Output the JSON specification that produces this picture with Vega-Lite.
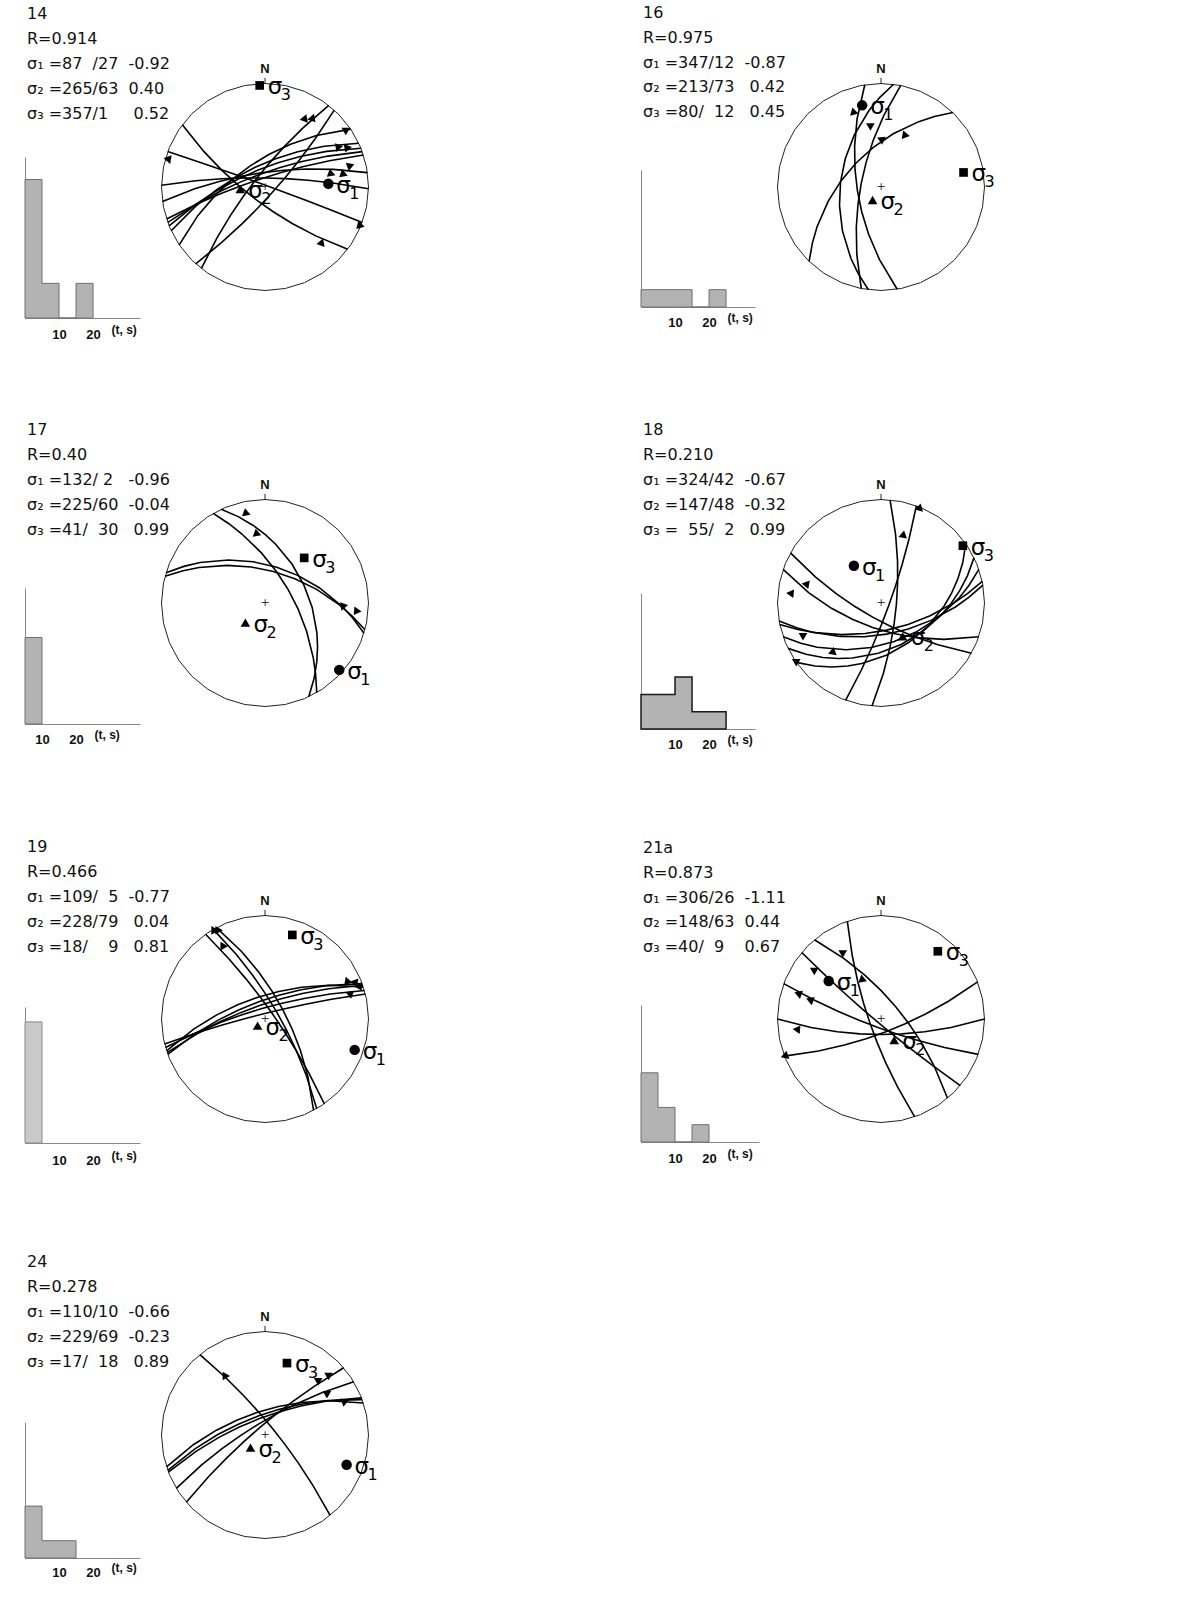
{
"$schema": "https://vega.github.io/schema/vega-lite/v6.json",
"padding": {"left": 23, "top": 0, "right": 0, "bottom": 0},
"background": "white",
"config": {"view": {"stroke": null}},
"datasets": {
"txt": [
{"p":"14","i":0,"t":"14"},{"p":"14","i":1,"t":"R=0.914"},{"p":"14","i":2,"t":"σ₁ =87 \u00a0/27 \u00a0-0.92"},{"p":"14","i":3,"t":"σ₂ =265/63 \u00a00.40"},{"p":"14","i":4,"t":"σ₃ =357/1 \u00a0\u00a0\u00a0\u00a00.52"},
{"p":"16","i":0,"t":"16"},{"p":"16","i":1,"t":"R=0.975"},{"p":"16","i":2,"t":"σ₁ =347/12 \u00a0-0.87"},{"p":"16","i":3,"t":"σ₂ =213/73 \u00a0\u00a00.42"},{"p":"16","i":4,"t":"σ₃ =80/ \u00a012 \u00a0\u00a00.45"},
{"p":"17","i":0,"t":"17"},{"p":"17","i":1,"t":"R=0.40"},{"p":"17","i":2,"t":"σ₁ =132/ 2 \u00a0\u00a0-0.96"},{"p":"17","i":3,"t":"σ₂ =225/60 \u00a0-0.04"},{"p":"17","i":4,"t":"σ₃ =41/ \u00a030 \u00a0\u00a00.99"},
{"p":"18","i":0,"t":"18"},{"p":"18","i":1,"t":"R=0.210"},{"p":"18","i":2,"t":"σ₁ =324/42 \u00a0-0.67"},{"p":"18","i":3,"t":"σ₂ =147/48 \u00a0-0.32"},{"p":"18","i":4,"t":"σ₃ = \u00a055/ \u00a02 \u00a0\u00a00.99"},
{"p":"19","i":0,"t":"19"},{"p":"19","i":1,"t":"R=0.466"},{"p":"19","i":2,"t":"σ₁ =109/ \u00a05 \u00a0-0.77"},{"p":"19","i":3,"t":"σ₂ =228/79 \u00a0\u00a00.04"},{"p":"19","i":4,"t":"σ₃ =18/ \u00a0\u00a0\u00a09 \u00a0\u00a00.81"},
{"p":"21a","i":0,"t":"21a"},{"p":"21a","i":1,"t":"R=0.873"},{"p":"21a","i":2,"t":"σ₁ =306/26 \u00a0-1.11"},{"p":"21a","i":3,"t":"σ₂ =148/63 \u00a00.44"},{"p":"21a","i":4,"t":"σ₃ =40/ \u00a09 \u00a0\u00a0\u00a00.67"},
{"p":"24","i":0,"t":"24"},{"p":"24","i":1,"t":"R=0.278"},{"p":"24","i":2,"t":"σ₁ =110/10 \u00a0-0.66"},{"p":"24","i":3,"t":"σ₂ =229/69 \u00a0-0.23"},{"p":"24","i":4,"t":"σ₃ =17/ \u00a018 \u00a0\u00a00.89"}
],
"hist": [
{"p":"14","t":0,"n":8},{"p":"14","t":5,"n":2},{"p":"14","t":10,"n":0},{"p":"14","t":15,"n":2},{"p":"14","t":20,"n":0},
{"p":"16","t":0,"n":1},{"p":"16","t":15,"n":0},{"p":"16","t":20,"n":1},{"p":"16","t":25,"n":0},
{"p":"17","t":5,"n":5},{"p":"17","t":10,"n":0},
{"p":"18","t":0,"n":2},{"p":"18","t":10,"n":3},{"p":"18","t":15,"n":1},{"p":"18","t":25,"n":0},
{"p":"19","t":0,"n":7},{"p":"19","t":5,"n":0},
{"p":"21a","t":0,"n":4},{"p":"21a","t":5,"n":2},{"p":"21a","t":10,"n":0},{"p":"21a","t":15,"n":1},{"p":"21a","t":20,"n":0},
{"p":"24","t":0,"n":3},{"p":"24","t":5,"n":1},{"p":"24","t":15,"n":0}
],
"prim": [{"type":"Feature","geometry":{"type":"LineString","coordinates":[[0,0],[90,0],[180,0],[270,0],[360,0]]}},{"type":"Feature","geometry":{"type":"LineString","coordinates":[[0,0],[0,-3]]}}],
"ref": [{"k":"N","lon":0,"lat":0},{"k":"+","lon":0,"lat":90}],
"planes": [
{"p":"14","type":"Feature","geometry":{"type":"LineString","coordinates":[[127,0],[217,73],[307,0]]}},
{"p":"14","type":"Feature","geometry":{"type":"LineString","coordinates":[[290,0],[20,88],[110,0]]}},
{"p":"14","type":"Feature","geometry":{"type":"LineString","coordinates":[[218,0],[308,77],[38,0]]}},
{"p":"14","type":"Feature","geometry":{"type":"LineString","coordinates":[[42,0],[132,80],[222,0]]}},
{"p":"14","type":"Feature","geometry":{"type":"LineString","coordinates":[[236,0],[326,62],[56,0]]}},
{"p":"14","type":"Feature","geometry":{"type":"LineString","coordinates":[[250,0],[340,75],[70,0]]}},
{"p":"14","type":"Feature","geometry":{"type":"LineString","coordinates":[[248,0],[338,70],[68,0]]}},
{"p":"14","type":"Feature","geometry":{"type":"LineString","coordinates":[[252,0],[342,80],[72,0]]}},
{"p":"14","type":"Feature","geometry":{"type":"LineString","coordinates":[[245,0],[335,66],[65,0]]}},
{"p":"14","type":"Feature","geometry":{"type":"LineString","coordinates":[[262,0],[352,74],[82,0]]}},
{"p":"14","type":"Feature","geometry":{"type":"LineString","coordinates":[[271,0],[1,80],[91,0]]}},
{"p":"16","type":"Feature","geometry":{"type":"LineString","coordinates":[[224,0],[314,53],[44,0]]}},
{"p":"16","type":"Feature","geometry":{"type":"LineString","coordinates":[[171,0],[261,64],[351,0]]}},
{"p":"16","type":"Feature","geometry":{"type":"LineString","coordinates":[[187,0],[277,47],[7,0]]}},
{"p":"16","type":"Feature","geometry":{"type":"LineString","coordinates":[[191,0],[281,68],[11,0]]}},
{"p":"17","type":"Feature","geometry":{"type":"LineString","coordinates":[[287,0],[17,50],[107,0]]}},
{"p":"17","type":"Feature","geometry":{"type":"LineString","coordinates":[[285,0],[15,55],[105,0]]}},
{"p":"17","type":"Feature","geometry":{"type":"LineString","coordinates":[[330,0],[60,61],[150,0]]}},
{"p":"17","type":"Feature","geometry":{"type":"LineString","coordinates":[[335,0],[65,45],[155,0]]}},
{"p":"18","type":"Feature","geometry":{"type":"LineString","coordinates":[[5,0],[95,73],[185,0]]}},
{"p":"18","type":"Feature","geometry":{"type":"LineString","coordinates":[[20,0],[110,81],[200,0]]}},
{"p":"18","type":"Feature","geometry":{"type":"LineString","coordinates":[[119,0],[209,72],[299,0]]}},
{"p":"18","type":"Feature","geometry":{"type":"LineString","coordinates":[[109,0],[199,62],[289,0]]}},
{"p":"18","type":"Feature","geometry":{"type":"LineString","coordinates":[[78,0],[168,60],[258,0]]}},
{"p":"18","type":"Feature","geometry":{"type":"LineString","coordinates":[[71,0],[161,47],[251,0]]}},
{"p":"18","type":"Feature","geometry":{"type":"LineString","coordinates":[[64,0],[154,42],[244,0]]}},
{"p":"18","type":"Feature","geometry":{"type":"LineString","coordinates":[[55,0],[145,40],[235,0]]}},
{"p":"18","type":"Feature","geometry":{"type":"LineString","coordinates":[[80,0],[170,56],[260,0]]}},
{"p":"19","type":"Feature","geometry":{"type":"LineString","coordinates":[[325,0],[55,80],[145,0]]}},
{"p":"19","type":"Feature","geometry":{"type":"LineString","coordinates":[[330,0],[60,75],[150,0]]}},
{"p":"19","type":"Feature","geometry":{"type":"LineString","coordinates":[[332,0],[62,68],[152,0]]}},
{"p":"19","type":"Feature","geometry":{"type":"LineString","coordinates":[[252,0],[342,65],[72,0]]}},
{"p":"19","type":"Feature","geometry":{"type":"LineString","coordinates":[[250,0],[340,70],[70,0]]}},
{"p":"19","type":"Feature","geometry":{"type":"LineString","coordinates":[[254,0],[344,78],[74,0]]}},
{"p":"19","type":"Feature","geometry":{"type":"LineString","coordinates":[[256,0],[346,84],[76,0]]}},
{"p":"19","type":"Feature","geometry":{"type":"LineString","coordinates":[[251,0],[341,74],[71,0]]}},
{"p":"21a","type":"Feature","geometry":{"type":"LineString","coordinates":[[161,0],[251,77],[341,0]]}},
{"p":"21a","type":"Feature","geometry":{"type":"LineString","coordinates":[[320,0],[50,69],[140,0]]}},
{"p":"21a","type":"Feature","geometry":{"type":"LineString","coordinates":[[130,0],[220,85],[310,0]]}},
{"p":"21a","type":"Feature","geometry":{"type":"LineString","coordinates":[[110,0],[200,80],[290,0]]}},
{"p":"21a","type":"Feature","geometry":{"type":"LineString","coordinates":[[90,0],[180,73],[270,0]]}},
{"p":"21a","type":"Feature","geometry":{"type":"LineString","coordinates":[[69,0],[159,75],[249,0]]}},
{"p":"24","type":"Feature","geometry":{"type":"LineString","coordinates":[[321,0],[51,79],[141,0]]}},
{"p":"24","type":"Feature","geometry":{"type":"LineString","coordinates":[[252,0],[342,64],[72,0]]}},
{"p":"24","type":"Feature","geometry":{"type":"LineString","coordinates":[[250,0],[340,68],[70,0]]}},
{"p":"24","type":"Feature","geometry":{"type":"LineString","coordinates":[[249,0],[339,71],[69,0]]}},
{"p":"24","type":"Feature","geometry":{"type":"LineString","coordinates":[[239,0],[329,76],[59,0]]}},
{"p":"24","type":"Feature","geometry":{"type":"LineString","coordinates":[[229.5,0],[319.5,80],[49.5,0]]}}
],
"arrows": [
{"p":"14","lon":286,"lat":1,"dir":280},{"p":"14","lon":29.5,"lat":16,"dir":260},{"p":"14","lon":34,"lat":13,"dir":260},{"p":"14","lon":55,"lat":2,"dir":60},{"p":"14","lon":62,"lat":13,"dir":200},{"p":"14","lon":65,"lat":8,"dir":200},{"p":"14","lon":76,"lat":9,"dir":70},{"p":"14","lon":79,"lat":25,"dir":230},{"p":"14","lon":81,"lat":16,"dir":230},{"p":"14","lon":112,"lat":0,"dir":105},{"p":"14","lon":135,"lat":14,"dir":140},
{"p":"16","lon":340,"lat":14,"dir":345},{"p":"16","lon":350,"lat":29,"dir":180},{"p":"16","lon":1,"lat":42,"dir":175},{"p":"16","lon":26,"lat":32,"dir":100},
{"p":"17","lon":348,"lat":6,"dir":350},{"p":"17","lon":353,"lat":21,"dir":350},{"p":"17","lon":92,"lat":15,"dir":80},{"p":"17","lon":95,"lat":6,"dir":95},
{"p":"18","lon":22,"lat":0,"dir":15},{"p":"18","lon":18,"lat":20,"dir":10},{"p":"18","lon":284,"lat":16,"dir":280},{"p":"18","lon":276,"lat":7,"dir":275},{"p":"18","lon":248,"lat":11,"dir":300},{"p":"18","lon":225,"lat":22,"dir":250},{"p":"18","lon":236,"lat":0,"dir":300},
{"p":"19","lon":330,"lat":0,"dir":330},{"p":"19","lon":332,"lat":1,"dir":330},{"p":"19","lon":330,"lat":11,"dir":330},{"p":"19","lon":66,"lat":7,"dir":100},{"p":"19","lon":68.6,"lat":3.5,"dir":160},{"p":"19","lon":71.7,"lat":2,"dir":150},{"p":"19","lon":74.4,"lat":8.8,"dir":170},
{"p":"21a","lon":331,"lat":17,"dir":60},{"p":"21a","lon":306,"lat":12,"dir":300},{"p":"21a","lon":335,"lat":43,"dir":350},{"p":"21a","lon":287,"lat":10,"dir":290},{"p":"21a","lon":285,"lat":19,"dir":290},{"p":"21a","lon":263,"lat":11,"dir":275},{"p":"21a","lon":249,"lat":0,"dir":250},
{"p":"24","lon":326,"lat":20,"dir":330},{"p":"24","lon":45,"lat":18,"dir":180},{"p":"24","lon":47,"lat":9,"dir":60},{"p":"24","lon":57,"lat":19,"dir":180},{"p":"24","lon":68,"lat":11,"dir":190}
],
"sig": [
{"p":"14","s":"1","lon":87,"lat":27},{"p":"14","s":"2","lon":265,"lat":63},{"p":"14","s":"3","lon":357,"lat":1},
{"p":"16","s":"1","lon":347,"lat":12},{"p":"16","s":"2","lon":213,"lat":73},{"p":"16","s":"3","lon":80,"lat":12},
{"p":"17","s":"1","lon":132,"lat":2},{"p":"17","s":"2","lon":225,"lat":60},{"p":"17","s":"3","lon":41,"lat":30},
{"p":"18","s":"1","lon":324,"lat":42},{"p":"18","s":"2","lon":147,"lat":48},{"p":"18","s":"3","lon":55,"lat":2},
{"p":"19","s":"1","lon":109,"lat":5},{"p":"19","s":"2","lon":228,"lat":79},{"p":"19","s":"3","lon":18,"lat":9},
{"p":"21a","s":"1","lon":306,"lat":26},{"p":"21a","s":"2","lon":148,"lat":63},{"p":"21a","s":"3","lon":40,"lat":9},
{"p":"24","s":"1","lon":110,"lat":10},{"p":"24","s":"2","lon":229,"lat":69},{"p":"24","s":"3","lon":17,"lat":18}
]
},
"columns": 2,
"spacing": 0,
"bounds": "flush",
"concat": [
{"width": 616, "height": 416, "resolve": {"scale": {"x": "independent", "y": "independent"}},
 "layer": [
  {"data": {"name": "txt"}, "transform": [{"filter": {"field": "p", "equal": "14"}}],
   "mark": {"type": "text", "align": "left", "baseline": "alphabetic", "font": "DejaVu Sans", "fontSize": 16, "dx": 2, "color": "#111"},
   "encoding": {"x": {"value": 0}, "y": {"field": "i", "type": "ordinal", "axis": null, "scale": {"type": "point", "range": [19, 119], "padding": 0}}, "text": {"field": "t"}}},
  {"data": {"name": "hist"}, "transform": [{"filter": {"field": "p", "equal": "14"}}],
   "mark": {"type": "area", "interpolate": "step-after", "fill": "#b3b3b3", "stroke": "#6e6e6e", "strokeWidth": 1},
   "encoding": {
    "x": {"field": "t", "type": "quantitative", "scale": {"domain": [0, 33.8], "range": [0, 115], "nice": false, "zero": false},
     "axis": {"offset": -98, "values": [10, 20, 29], "labelExpr": "datum.value > 25 ? '(t, s)' : datum.label", "ticks": false, "tickSize": 0, "grid": false, "domainColor": "#8a8a8a", "labelFont": "Liberation Sans", "labelFontWeight": "bold", "labelColor": "#111", "labelFontSize": {"condition": {"test": "datum.value > 25", "value": 12}, "value": 13}, "labelPadding": {"condition": {"test": "datum.value > 25", "value": 6}, "value": 10}, "labelOverlap": false, "labelFlush": false, "title": null}},
    "y": {"field": "n", "type": "quantitative", "scale": {"domain": [0, 9.3], "range": [318, 157], "nice": false}, "axis": {"ticks": false, "labels": false, "grid": false, "domainColor": "#8a8a8a", "title": null}}}},
  {"projection": {"type": "stereographic", "rotate": [180, -90, 0], "reflectX": true, "scale": 103.5, "translate": [240, 187]},
   "layer": [
    {"data": {"name": "prim"}, "mark": {"type": "geoshape", "filled": false, "stroke": "#222", "strokeWidth": 1}},
    {"data": {"name": "planes"}, "transform": [{"filter": {"field": "p", "equal": "14"}}], "mark": {"type": "geoshape", "filled": false, "stroke": "#000", "strokeWidth": 1.6}},
    {"data": {"name": "arrows"}, "transform": [{"filter": {"field": "p", "equal": "14"}}], "mark": {"type": "point", "shape": "triangle-up", "filled": true, "color": "#000", "opacity": 1, "size": 75}, "encoding": {"longitude": {"field": "lon", "type": "quantitative"}, "latitude": {"field": "lat", "type": "quantitative"}, "angle": {"field": "dir", "type": "quantitative", "scale": null}}},
    {"data": {"name": "sig"}, "transform": [{"filter": {"field": "p", "equal": "14"}}], "mark": {"type": "point", "filled": true, "color": "#000", "opacity": 1}, "encoding": {"longitude": {"field": "lon", "type": "quantitative"}, "latitude": {"field": "lat", "type": "quantitative"}, "shape": {"field": "s", "type": "nominal", "scale": {"domain": ["1","2","3"], "range": ["circle","triangle-up","square"]}, "legend": null}, "size": {"field": "s", "type": "ordinal", "scale": {"domain": ["1","2","3"], "range": [110, 75, 90]}, "legend": null}}},
    {"data": {"name": "sig"}, "transform": [{"filter": {"field": "p", "equal": "14"}}], "mark": {"type": "text", "text": "σ", "align": "left", "baseline": "middle", "dx": 8, "dy": 2, "font": "DejaVu Sans", "fontSize": 23, "color": "#000"}, "encoding": {"longitude": {"field": "lon", "type": "quantitative"}, "latitude": {"field": "lat", "type": "quantitative"}}},
    {"data": {"name": "sig"}, "transform": [{"filter": {"field": "p", "equal": "14"}}], "mark": {"type": "text", "align": "left", "baseline": "middle", "dx": 21, "dy": 10, "font": "DejaVu Sans", "fontSize": 16, "color": "#000"}, "encoding": {"longitude": {"field": "lon", "type": "quantitative"}, "latitude": {"field": "lat", "type": "quantitative"}, "text": {"field": "s"}}},
    {"data": {"name": "ref"}, "transform": [{"filter": {"field": "k", "equal": "N"}}], "mark": {"type": "text", "text": "N", "font": "Liberation Sans", "fontWeight": "bold", "fontSize": 13, "baseline": "middle", "dy": -15, "color": "#111"}, "encoding": {"longitude": {"field": "lon", "type": "quantitative"}, "latitude": {"field": "lat", "type": "quantitative"}}},
    {"data": {"name": "ref"}, "transform": [{"filter": {"field": "k", "equal": "+"}}], "mark": {"type": "text", "text": "+", "font": "DejaVu Sans", "fontSize": 11, "baseline": "middle", "color": "#333"}, "encoding": {"longitude": {"field": "lon", "type": "quantitative"}, "latitude": {"field": "lat", "type": "quantitative"}}}
   ]}
 ]},
{"width": 616, "height": 416, "resolve": {"scale": {"x": "independent", "y": "independent"}},
 "layer": [
  {"data": {"name": "txt"}, "transform": [{"filter": {"field": "p", "equal": "16"}}],
   "mark": {"type": "text", "align": "left", "baseline": "alphabetic", "font": "DejaVu Sans", "fontSize": 16, "dx": 2, "color": "#111"},
   "encoding": {"x": {"value": 0}, "y": {"field": "i", "type": "ordinal", "axis": null, "scale": {"type": "point", "range": [18, 117], "padding": 0}}, "text": {"field": "t"}}},
  {"data": {"name": "hist"}, "transform": [{"filter": {"field": "p", "equal": "16"}}],
   "mark": {"type": "area", "interpolate": "step-after", "fill": "#b3b3b3", "stroke": "#6e6e6e", "strokeWidth": 1},
   "encoding": {
    "x": {"field": "t", "type": "quantitative", "scale": {"domain": [0, 33.5], "range": [0, 114], "nice": false, "zero": false},
     "axis": {"offset": -109, "values": [10, 20, 29], "labelExpr": "datum.value > 25 ? '(t, s)' : datum.label", "ticks": false, "tickSize": 0, "grid": false, "domainColor": "#8a8a8a", "labelFont": "Liberation Sans", "labelFontWeight": "bold", "labelColor": "#111", "labelFontSize": {"condition": {"test": "datum.value > 25", "value": 12}, "value": 13}, "labelPadding": {"condition": {"test": "datum.value > 25", "value": 5}, "value": 9}, "labelOverlap": false, "labelFlush": false, "title": null}},
    "y": {"field": "n", "type": "quantitative", "scale": {"domain": [0, 7.92], "range": [307, 170], "nice": false}, "axis": {"ticks": false, "labels": false, "grid": false, "domainColor": "#8a8a8a", "title": null}}}},
  {"projection": {"type": "stereographic", "rotate": [180, -90, 0], "reflectX": true, "scale": 103.5, "translate": [244, 185]},
   "layer": [
    {"data": {"name": "prim"}, "mark": {"type": "geoshape", "filled": false, "stroke": "#222", "strokeWidth": 1}},
    {"data": {"name": "planes"}, "transform": [{"filter": {"field": "p", "equal": "16"}}], "mark": {"type": "geoshape", "filled": false, "stroke": "#000", "strokeWidth": 1.6}},
    {"data": {"name": "arrows"}, "transform": [{"filter": {"field": "p", "equal": "16"}}], "mark": {"type": "point", "shape": "triangle-up", "filled": true, "color": "#000", "opacity": 1, "size": 75}, "encoding": {"longitude": {"field": "lon", "type": "quantitative"}, "latitude": {"field": "lat", "type": "quantitative"}, "angle": {"field": "dir", "type": "quantitative", "scale": null}}},
    {"data": {"name": "sig"}, "transform": [{"filter": {"field": "p", "equal": "16"}}], "mark": {"type": "point", "filled": true, "color": "#000", "opacity": 1}, "encoding": {"longitude": {"field": "lon", "type": "quantitative"}, "latitude": {"field": "lat", "type": "quantitative"}, "shape": {"field": "s", "type": "nominal", "scale": {"domain": ["1","2","3"], "range": ["circle","triangle-up","square"]}, "legend": null}, "size": {"field": "s", "type": "ordinal", "scale": {"domain": ["1","2","3"], "range": [110, 75, 90]}, "legend": null}}},
    {"data": {"name": "sig"}, "transform": [{"filter": {"field": "p", "equal": "16"}}], "mark": {"type": "text", "text": "σ", "align": "left", "baseline": "middle", "dx": 8, "dy": 2, "font": "DejaVu Sans", "fontSize": 23, "color": "#000"}, "encoding": {"longitude": {"field": "lon", "type": "quantitative"}, "latitude": {"field": "lat", "type": "quantitative"}}},
    {"data": {"name": "sig"}, "transform": [{"filter": {"field": "p", "equal": "16"}}], "mark": {"type": "text", "align": "left", "baseline": "middle", "dx": 21, "dy": 10, "font": "DejaVu Sans", "fontSize": 16, "color": "#000"}, "encoding": {"longitude": {"field": "lon", "type": "quantitative"}, "latitude": {"field": "lat", "type": "quantitative"}, "text": {"field": "s"}}},
    {"data": {"name": "ref"}, "transform": [{"filter": {"field": "k", "equal": "N"}}], "mark": {"type": "text", "text": "N", "font": "Liberation Sans", "fontWeight": "bold", "fontSize": 13, "baseline": "middle", "dy": -15, "color": "#111"}, "encoding": {"longitude": {"field": "lon", "type": "quantitative"}, "latitude": {"field": "lat", "type": "quantitative"}}},
    {"data": {"name": "ref"}, "transform": [{"filter": {"field": "k", "equal": "+"}}], "mark": {"type": "text", "text": "+", "font": "DejaVu Sans", "fontSize": 11, "baseline": "middle", "color": "#333"}, "encoding": {"longitude": {"field": "lon", "type": "quantitative"}, "latitude": {"field": "lat", "type": "quantitative"}}}
   ]}
 ]},
{"width": 616, "height": 416, "resolve": {"scale": {"x": "independent", "y": "independent"}},
 "layer": [
  {"data": {"name": "txt"}, "transform": [{"filter": {"field": "p", "equal": "17"}}],
   "mark": {"type": "text", "align": "left", "baseline": "alphabetic", "font": "DejaVu Sans", "fontSize": 16, "dx": 2, "color": "#111"},
   "encoding": {"x": {"value": 0}, "y": {"field": "i", "type": "ordinal", "axis": null, "scale": {"type": "point", "range": [19, 119], "padding": 0}}, "text": {"field": "t"}}},
  {"data": {"name": "hist"}, "transform": [{"filter": {"field": "p", "equal": "17"}}],
   "mark": {"type": "area", "interpolate": "step-after", "fill": "#b3b3b3", "stroke": "#6e6e6e", "strokeWidth": 1},
   "encoding": {
    "x": {"field": "t", "type": "quantitative", "scale": {"domain": [5, 38.8], "range": [0, 115], "nice": false, "zero": false},
     "axis": {"offset": -108, "values": [10, 20, 29], "labelExpr": "datum.value > 25 ? '(t, s)' : datum.label", "ticks": false, "tickSize": 0, "grid": false, "domainColor": "#8a8a8a", "labelFont": "Liberation Sans", "labelFontWeight": "bold", "labelColor": "#111", "labelFontSize": {"condition": {"test": "datum.value > 25", "value": 12}, "value": 13}, "labelPadding": {"condition": {"test": "datum.value > 25", "value": 5}, "value": 9}, "labelOverlap": false, "labelFlush": false, "title": null}},
    "y": {"field": "n", "type": "quantitative", "scale": {"domain": [0, 7.86], "range": [308, 172], "nice": false}, "axis": {"ticks": false, "labels": false, "grid": false, "domainColor": "#8a8a8a", "title": null}}}},
  {"projection": {"type": "stereographic", "rotate": [180, -90, 0], "reflectX": true, "scale": 103.5, "translate": [241, 181]},
   "layer": [
    {"data": {"name": "prim"}, "mark": {"type": "geoshape", "filled": false, "stroke": "#222", "strokeWidth": 1}},
    {"data": {"name": "planes"}, "transform": [{"filter": {"field": "p", "equal": "17"}}], "mark": {"type": "geoshape", "filled": false, "stroke": "#000", "strokeWidth": 1.6}},
    {"data": {"name": "arrows"}, "transform": [{"filter": {"field": "p", "equal": "17"}}], "mark": {"type": "point", "shape": "triangle-up", "filled": true, "color": "#000", "opacity": 1, "size": 75}, "encoding": {"longitude": {"field": "lon", "type": "quantitative"}, "latitude": {"field": "lat", "type": "quantitative"}, "angle": {"field": "dir", "type": "quantitative", "scale": null}}},
    {"data": {"name": "sig"}, "transform": [{"filter": {"field": "p", "equal": "17"}}], "mark": {"type": "point", "filled": true, "color": "#000", "opacity": 1}, "encoding": {"longitude": {"field": "lon", "type": "quantitative"}, "latitude": {"field": "lat", "type": "quantitative"}, "shape": {"field": "s", "type": "nominal", "scale": {"domain": ["1","2","3"], "range": ["circle","triangle-up","square"]}, "legend": null}, "size": {"field": "s", "type": "ordinal", "scale": {"domain": ["1","2","3"], "range": [110, 75, 90]}, "legend": null}}},
    {"data": {"name": "sig"}, "transform": [{"filter": {"field": "p", "equal": "17"}}], "mark": {"type": "text", "text": "σ", "align": "left", "baseline": "middle", "dx": 8, "dy": 2, "font": "DejaVu Sans", "fontSize": 23, "color": "#000"}, "encoding": {"longitude": {"field": "lon", "type": "quantitative"}, "latitude": {"field": "lat", "type": "quantitative"}}},
    {"data": {"name": "sig"}, "transform": [{"filter": {"field": "p", "equal": "17"}}], "mark": {"type": "text", "align": "left", "baseline": "middle", "dx": 21, "dy": 10, "font": "DejaVu Sans", "fontSize": 16, "color": "#000"}, "encoding": {"longitude": {"field": "lon", "type": "quantitative"}, "latitude": {"field": "lat", "type": "quantitative"}, "text": {"field": "s"}}},
    {"data": {"name": "ref"}, "transform": [{"filter": {"field": "k", "equal": "N"}}], "mark": {"type": "text", "text": "N", "font": "Liberation Sans", "fontWeight": "bold", "fontSize": 13, "baseline": "middle", "dy": -15, "color": "#111"}, "encoding": {"longitude": {"field": "lon", "type": "quantitative"}, "latitude": {"field": "lat", "type": "quantitative"}}},
    {"data": {"name": "ref"}, "transform": [{"filter": {"field": "k", "equal": "+"}}], "mark": {"type": "text", "text": "+", "font": "DejaVu Sans", "fontSize": 11, "baseline": "middle", "color": "#333"}, "encoding": {"longitude": {"field": "lon", "type": "quantitative"}, "latitude": {"field": "lat", "type": "quantitative"}}}
   ]}
 ]},
{"width": 616, "height": 416, "resolve": {"scale": {"x": "independent", "y": "independent"}},
 "layer": [
  {"data": {"name": "txt"}, "transform": [{"filter": {"field": "p", "equal": "18"}}],
   "mark": {"type": "text", "align": "left", "baseline": "alphabetic", "font": "DejaVu Sans", "fontSize": 16, "dx": 2, "color": "#111"},
   "encoding": {"x": {"value": 0}, "y": {"field": "i", "type": "ordinal", "axis": null, "scale": {"type": "point", "range": [19, 119], "padding": 0}}, "text": {"field": "t"}}},
  {"data": {"name": "hist"}, "transform": [{"filter": {"field": "p", "equal": "18"}}],
   "mark": {"type": "area", "interpolate": "step-after", "fill": "#b3b3b3", "stroke": "#1a1a1a", "strokeWidth": 1.5},
   "encoding": {
    "x": {"field": "t", "type": "quantitative", "scale": {"domain": [0, 33.5], "range": [0, 114], "nice": false, "zero": false},
     "axis": {"offset": -103, "values": [10, 20, 29], "labelExpr": "datum.value > 25 ? '(t, s)' : datum.label", "ticks": false, "tickSize": 0, "grid": false, "domainColor": "#8a8a8a", "labelFont": "Liberation Sans", "labelFontWeight": "bold", "labelColor": "#111", "labelFontSize": {"condition": {"test": "datum.value > 25", "value": 12}, "value": 13}, "labelPadding": {"condition": {"test": "datum.value > 25", "value": 5}, "value": 9}, "labelOverlap": false, "labelFlush": false, "title": null}},
    "y": {"field": "n", "type": "quantitative", "scale": {"domain": [0, 7.86], "range": [313, 177], "nice": false}, "axis": {"ticks": false, "labels": false, "grid": false, "domainColor": "#8a8a8a", "title": null}}}},
  {"projection": {"type": "stereographic", "rotate": [180, -90, 0], "reflectX": true, "scale": 103.5, "translate": [240, 188]},
   "layer": [
    {"data": {"name": "prim"}, "mark": {"type": "geoshape", "filled": false, "stroke": "#222", "strokeWidth": 1}},
    {"data": {"name": "planes"}, "transform": [{"filter": {"field": "p", "equal": "18"}}], "mark": {"type": "geoshape", "filled": false, "stroke": "#000", "strokeWidth": 1.6}},
    {"data": {"name": "arrows"}, "transform": [{"filter": {"field": "p", "equal": "18"}}], "mark": {"type": "point", "shape": "triangle-up", "filled": true, "color": "#000", "opacity": 1, "size": 75}, "encoding": {"longitude": {"field": "lon", "type": "quantitative"}, "latitude": {"field": "lat", "type": "quantitative"}, "angle": {"field": "dir", "type": "quantitative", "scale": null}}},
    {"data": {"name": "sig"}, "transform": [{"filter": {"field": "p", "equal": "18"}}], "mark": {"type": "point", "filled": true, "color": "#000", "opacity": 1}, "encoding": {"longitude": {"field": "lon", "type": "quantitative"}, "latitude": {"field": "lat", "type": "quantitative"}, "shape": {"field": "s", "type": "nominal", "scale": {"domain": ["1","2","3"], "range": ["circle","triangle-up","square"]}, "legend": null}, "size": {"field": "s", "type": "ordinal", "scale": {"domain": ["1","2","3"], "range": [110, 75, 90]}, "legend": null}}},
    {"data": {"name": "sig"}, "transform": [{"filter": {"field": "p", "equal": "18"}}], "mark": {"type": "text", "text": "σ", "align": "left", "baseline": "middle", "dx": 8, "dy": 2, "font": "DejaVu Sans", "fontSize": 23, "color": "#000"}, "encoding": {"longitude": {"field": "lon", "type": "quantitative"}, "latitude": {"field": "lat", "type": "quantitative"}}},
    {"data": {"name": "sig"}, "transform": [{"filter": {"field": "p", "equal": "18"}}], "mark": {"type": "text", "align": "left", "baseline": "middle", "dx": 21, "dy": 10, "font": "DejaVu Sans", "fontSize": 16, "color": "#000"}, "encoding": {"longitude": {"field": "lon", "type": "quantitative"}, "latitude": {"field": "lat", "type": "quantitative"}, "text": {"field": "s"}}},
    {"data": {"name": "ref"}, "transform": [{"filter": {"field": "k", "equal": "N"}}], "mark": {"type": "text", "text": "N", "font": "Liberation Sans", "fontWeight": "bold", "fontSize": 13, "baseline": "middle", "dy": -15, "color": "#111"}, "encoding": {"longitude": {"field": "lon", "type": "quantitative"}, "latitude": {"field": "lat", "type": "quantitative"}}},
    {"data": {"name": "ref"}, "transform": [{"filter": {"field": "k", "equal": "+"}}], "mark": {"type": "text", "text": "+", "font": "DejaVu Sans", "fontSize": 11, "baseline": "middle", "color": "#333"}, "encoding": {"longitude": {"field": "lon", "type": "quantitative"}, "latitude": {"field": "lat", "type": "quantitative"}}}
   ]}
 ]},
{"width": 616, "height": 416, "resolve": {"scale": {"x": "independent", "y": "independent"}},
 "layer": [
  {"data": {"name": "txt"}, "transform": [{"filter": {"field": "p", "equal": "19"}}],
   "mark": {"type": "text", "align": "left", "baseline": "alphabetic", "font": "DejaVu Sans", "fontSize": 16, "dx": 2, "color": "#111"},
   "encoding": {"x": {"value": 0}, "y": {"field": "i", "type": "ordinal", "axis": null, "scale": {"type": "point", "range": [20, 120], "padding": 0}}, "text": {"field": "t"}}},
  {"data": {"name": "hist"}, "transform": [{"filter": {"field": "p", "equal": "19"}}],
   "mark": {"type": "area", "interpolate": "step-after", "fill": "#c9c9c9", "stroke": "#8a8a8a", "strokeWidth": 1},
   "encoding": {
    "x": {"field": "t", "type": "quantitative", "scale": {"domain": [0, 33.8], "range": [0, 115], "nice": false, "zero": false},
     "axis": {"offset": -105, "values": [10, 20, 29], "labelExpr": "datum.value > 25 ? '(t, s)' : datum.label", "ticks": false, "tickSize": 0, "grid": false, "domainColor": "#8a8a8a", "labelFont": "Liberation Sans", "labelFontWeight": "bold", "labelColor": "#111", "labelFontSize": {"condition": {"test": "datum.value > 25", "value": 12}, "value": 13}, "labelPadding": {"condition": {"test": "datum.value > 25", "value": 7}, "value": 11}, "labelOverlap": false, "labelFlush": false, "title": null}},
    "y": {"field": "n", "type": "quantitative", "scale": {"domain": [0, 7.86], "range": [311, 175], "nice": false}, "axis": {"ticks": false, "labels": false, "grid": false, "domainColor": "#8a8a8a", "title": null}}}},
  {"projection": {"type": "stereographic", "rotate": [180, -90, 0], "reflectX": true, "scale": 103.5, "translate": [240, 188]},
   "layer": [
    {"data": {"name": "prim"}, "mark": {"type": "geoshape", "filled": false, "stroke": "#222", "strokeWidth": 1}},
    {"data": {"name": "planes"}, "transform": [{"filter": {"field": "p", "equal": "19"}}], "mark": {"type": "geoshape", "filled": false, "stroke": "#000", "strokeWidth": 1.6}},
    {"data": {"name": "arrows"}, "transform": [{"filter": {"field": "p", "equal": "19"}}], "mark": {"type": "point", "shape": "triangle-up", "filled": true, "color": "#000", "opacity": 1, "size": 75}, "encoding": {"longitude": {"field": "lon", "type": "quantitative"}, "latitude": {"field": "lat", "type": "quantitative"}, "angle": {"field": "dir", "type": "quantitative", "scale": null}}},
    {"data": {"name": "sig"}, "transform": [{"filter": {"field": "p", "equal": "19"}}], "mark": {"type": "point", "filled": true, "color": "#000", "opacity": 1}, "encoding": {"longitude": {"field": "lon", "type": "quantitative"}, "latitude": {"field": "lat", "type": "quantitative"}, "shape": {"field": "s", "type": "nominal", "scale": {"domain": ["1","2","3"], "range": ["circle","triangle-up","square"]}, "legend": null}, "size": {"field": "s", "type": "ordinal", "scale": {"domain": ["1","2","3"], "range": [110, 75, 90]}, "legend": null}}},
    {"data": {"name": "sig"}, "transform": [{"filter": {"field": "p", "equal": "19"}}], "mark": {"type": "text", "text": "σ", "align": "left", "baseline": "middle", "dx": 8, "dy": 2, "font": "DejaVu Sans", "fontSize": 23, "color": "#000"}, "encoding": {"longitude": {"field": "lon", "type": "quantitative"}, "latitude": {"field": "lat", "type": "quantitative"}}},
    {"data": {"name": "sig"}, "transform": [{"filter": {"field": "p", "equal": "19"}}], "mark": {"type": "text", "align": "left", "baseline": "middle", "dx": 21, "dy": 10, "font": "DejaVu Sans", "fontSize": 16, "color": "#000"}, "encoding": {"longitude": {"field": "lon", "type": "quantitative"}, "latitude": {"field": "lat", "type": "quantitative"}, "text": {"field": "s"}}},
    {"data": {"name": "ref"}, "transform": [{"filter": {"field": "k", "equal": "N"}}], "mark": {"type": "text", "text": "N", "font": "Liberation Sans", "fontWeight": "bold", "fontSize": 13, "baseline": "middle", "dy": -15, "color": "#111"}, "encoding": {"longitude": {"field": "lon", "type": "quantitative"}, "latitude": {"field": "lat", "type": "quantitative"}}},
    {"data": {"name": "ref"}, "transform": [{"filter": {"field": "k", "equal": "+"}}], "mark": {"type": "text", "text": "+", "font": "DejaVu Sans", "fontSize": 11, "baseline": "middle", "color": "#333"}, "encoding": {"longitude": {"field": "lon", "type": "quantitative"}, "latitude": {"field": "lat", "type": "quantitative"}}}
   ]}
 ]},
{"width": 616, "height": 416, "resolve": {"scale": {"x": "independent", "y": "independent"}},
 "layer": [
  {"data": {"name": "txt"}, "transform": [{"filter": {"field": "p", "equal": "21a"}}],
   "mark": {"type": "text", "align": "left", "baseline": "alphabetic", "font": "DejaVu Sans", "fontSize": 16, "dx": 2, "color": "#111"},
   "encoding": {"x": {"value": 0}, "y": {"field": "i", "type": "ordinal", "axis": null, "scale": {"type": "point", "range": [21, 120], "padding": 0}}, "text": {"field": "t"}}},
  {"data": {"name": "hist"}, "transform": [{"filter": {"field": "p", "equal": "21a"}}],
   "mark": {"type": "area", "interpolate": "step-after", "fill": "#b3b3b3", "stroke": "#6e6e6e", "strokeWidth": 1},
   "encoding": {
    "x": {"field": "t", "type": "quantitative", "scale": {"domain": [0, 34.7], "range": [0, 118], "nice": false, "zero": false},
     "axis": {"offset": -106, "values": [10, 20, 29], "labelExpr": "datum.value > 25 ? '(t, s)' : datum.label", "ticks": false, "tickSize": 0, "grid": false, "domainColor": "#8a8a8a", "labelFont": "Liberation Sans", "labelFontWeight": "bold", "labelColor": "#111", "labelFontSize": {"condition": {"test": "datum.value > 25", "value": 12}, "value": 13}, "labelPadding": {"condition": {"test": "datum.value > 25", "value": 6}, "value": 10}, "labelOverlap": false, "labelFlush": false, "title": null}},
    "y": {"field": "n", "type": "quantitative", "scale": {"domain": [0, 7.92], "range": [310, 173], "nice": false}, "axis": {"ticks": false, "labels": false, "grid": false, "domainColor": "#8a8a8a", "title": null}}}},
  {"projection": {"type": "stereographic", "rotate": [180, -90, 0], "reflectX": true, "scale": 103.5, "translate": [241, 190]},
   "layer": [
    {"data": {"name": "prim"}, "mark": {"type": "geoshape", "filled": false, "stroke": "#222", "strokeWidth": 1}},
    {"data": {"name": "planes"}, "transform": [{"filter": {"field": "p", "equal": "21a"}}], "mark": {"type": "geoshape", "filled": false, "stroke": "#000", "strokeWidth": 1.6}},
    {"data": {"name": "arrows"}, "transform": [{"filter": {"field": "p", "equal": "21a"}}], "mark": {"type": "point", "shape": "triangle-up", "filled": true, "color": "#000", "opacity": 1, "size": 75}, "encoding": {"longitude": {"field": "lon", "type": "quantitative"}, "latitude": {"field": "lat", "type": "quantitative"}, "angle": {"field": "dir", "type": "quantitative", "scale": null}}},
    {"data": {"name": "sig"}, "transform": [{"filter": {"field": "p", "equal": "21a"}}], "mark": {"type": "point", "filled": true, "color": "#000", "opacity": 1}, "encoding": {"longitude": {"field": "lon", "type": "quantitative"}, "latitude": {"field": "lat", "type": "quantitative"}, "shape": {"field": "s", "type": "nominal", "scale": {"domain": ["1","2","3"], "range": ["circle","triangle-up","square"]}, "legend": null}, "size": {"field": "s", "type": "ordinal", "scale": {"domain": ["1","2","3"], "range": [110, 75, 90]}, "legend": null}}},
    {"data": {"name": "sig"}, "transform": [{"filter": {"field": "p", "equal": "21a"}}], "mark": {"type": "text", "text": "σ", "align": "left", "baseline": "middle", "dx": 8, "dy": 2, "font": "DejaVu Sans", "fontSize": 23, "color": "#000"}, "encoding": {"longitude": {"field": "lon", "type": "quantitative"}, "latitude": {"field": "lat", "type": "quantitative"}}},
    {"data": {"name": "sig"}, "transform": [{"filter": {"field": "p", "equal": "21a"}}], "mark": {"type": "text", "align": "left", "baseline": "middle", "dx": 21, "dy": 10, "font": "DejaVu Sans", "fontSize": 16, "color": "#000"}, "encoding": {"longitude": {"field": "lon", "type": "quantitative"}, "latitude": {"field": "lat", "type": "quantitative"}, "text": {"field": "s"}}},
    {"data": {"name": "ref"}, "transform": [{"filter": {"field": "k", "equal": "N"}}], "mark": {"type": "text", "text": "N", "font": "Liberation Sans", "fontWeight": "bold", "fontSize": 13, "baseline": "middle", "dy": -15, "color": "#111"}, "encoding": {"longitude": {"field": "lon", "type": "quantitative"}, "latitude": {"field": "lat", "type": "quantitative"}}},
    {"data": {"name": "ref"}, "transform": [{"filter": {"field": "k", "equal": "+"}}], "mark": {"type": "text", "text": "+", "font": "DejaVu Sans", "fontSize": 11, "baseline": "middle", "color": "#333"}, "encoding": {"longitude": {"field": "lon", "type": "quantitative"}, "latitude": {"field": "lat", "type": "quantitative"}}}
   ]}
 ]},
{"width": 616, "height": 416, "resolve": {"scale": {"x": "independent", "y": "independent"}},
 "layer": [
  {"data": {"name": "txt"}, "transform": [{"filter": {"field": "p", "equal": "24"}}],
   "mark": {"type": "text", "align": "left", "baseline": "alphabetic", "font": "DejaVu Sans", "fontSize": 16, "dx": 2, "color": "#111"},
   "encoding": {"x": {"value": 0}, "y": {"field": "i", "type": "ordinal", "axis": null, "scale": {"type": "point", "range": [19, 119], "padding": 0}}, "text": {"field": "t"}}},
  {"data": {"name": "hist"}, "transform": [{"filter": {"field": "p", "equal": "24"}}],
   "mark": {"type": "area", "interpolate": "step-after", "fill": "#b3b3b3", "stroke": "#6e6e6e", "strokeWidth": 1},
   "encoding": {
    "x": {"field": "t", "type": "quantitative", "scale": {"domain": [0, 33.8], "range": [0, 115], "nice": false, "zero": false},
     "axis": {"offset": -106, "values": [10, 20, 29], "labelExpr": "datum.value > 25 ? '(t, s)' : datum.label", "ticks": false, "tickSize": 0, "grid": false, "domainColor": "#8a8a8a", "labelFont": "Liberation Sans", "labelFontWeight": "bold", "labelColor": "#111", "labelFontSize": {"condition": {"test": "datum.value > 25", "value": 12}, "value": 13}, "labelPadding": {"condition": {"test": "datum.value > 25", "value": 4}, "value": 8}, "labelOverlap": false, "labelFlush": false, "title": null}},
    "y": {"field": "n", "type": "quantitative", "scale": {"domain": [0, 7.86], "range": [310, 174], "nice": false}, "axis": {"ticks": false, "labels": false, "grid": false, "domainColor": "#8a8a8a", "title": null}}}},
  {"projection": {"type": "stereographic", "rotate": [180, -90, 0], "reflectX": true, "scale": 103.5, "translate": [242, 187]},
   "layer": [
    {"data": {"name": "prim"}, "mark": {"type": "geoshape", "filled": false, "stroke": "#222", "strokeWidth": 1}},
    {"data": {"name": "planes"}, "transform": [{"filter": {"field": "p", "equal": "24"}}], "mark": {"type": "geoshape", "filled": false, "stroke": "#000", "strokeWidth": 1.6}},
    {"data": {"name": "arrows"}, "transform": [{"filter": {"field": "p", "equal": "24"}}], "mark": {"type": "point", "shape": "triangle-up", "filled": true, "color": "#000", "opacity": 1, "size": 75}, "encoding": {"longitude": {"field": "lon", "type": "quantitative"}, "latitude": {"field": "lat", "type": "quantitative"}, "angle": {"field": "dir", "type": "quantitative", "scale": null}}},
    {"data": {"name": "sig"}, "transform": [{"filter": {"field": "p", "equal": "24"}}], "mark": {"type": "point", "filled": true, "color": "#000", "opacity": 1}, "encoding": {"longitude": {"field": "lon", "type": "quantitative"}, "latitude": {"field": "lat", "type": "quantitative"}, "shape": {"field": "s", "type": "nominal", "scale": {"domain": ["1","2","3"], "range": ["circle","triangle-up","square"]}, "legend": null}, "size": {"field": "s", "type": "ordinal", "scale": {"domain": ["1","2","3"], "range": [110, 75, 90]}, "legend": null}}},
    {"data": {"name": "sig"}, "transform": [{"filter": {"field": "p", "equal": "24"}}], "mark": {"type": "text", "text": "σ", "align": "left", "baseline": "middle", "dx": 8, "dy": 2, "font": "DejaVu Sans", "fontSize": 23, "color": "#000"}, "encoding": {"longitude": {"field": "lon", "type": "quantitative"}, "latitude": {"field": "lat", "type": "quantitative"}}},
    {"data": {"name": "sig"}, "transform": [{"filter": {"field": "p", "equal": "24"}}], "mark": {"type": "text", "align": "left", "baseline": "middle", "dx": 21, "dy": 10, "font": "DejaVu Sans", "fontSize": 16, "color": "#000"}, "encoding": {"longitude": {"field": "lon", "type": "quantitative"}, "latitude": {"field": "lat", "type": "quantitative"}, "text": {"field": "s"}}},
    {"data": {"name": "ref"}, "transform": [{"filter": {"field": "k", "equal": "N"}}], "mark": {"type": "text", "text": "N", "font": "Liberation Sans", "fontWeight": "bold", "fontSize": 13, "baseline": "middle", "dy": -15, "color": "#111"}, "encoding": {"longitude": {"field": "lon", "type": "quantitative"}, "latitude": {"field": "lat", "type": "quantitative"}}},
    {"data": {"name": "ref"}, "transform": [{"filter": {"field": "k", "equal": "+"}}], "mark": {"type": "text", "text": "+", "font": "DejaVu Sans", "fontSize": 11, "baseline": "middle", "color": "#333"}, "encoding": {"longitude": {"field": "lon", "type": "quantitative"}, "latitude": {"field": "lat", "type": "quantitative"}}}
   ]}
 ]}
]
}
